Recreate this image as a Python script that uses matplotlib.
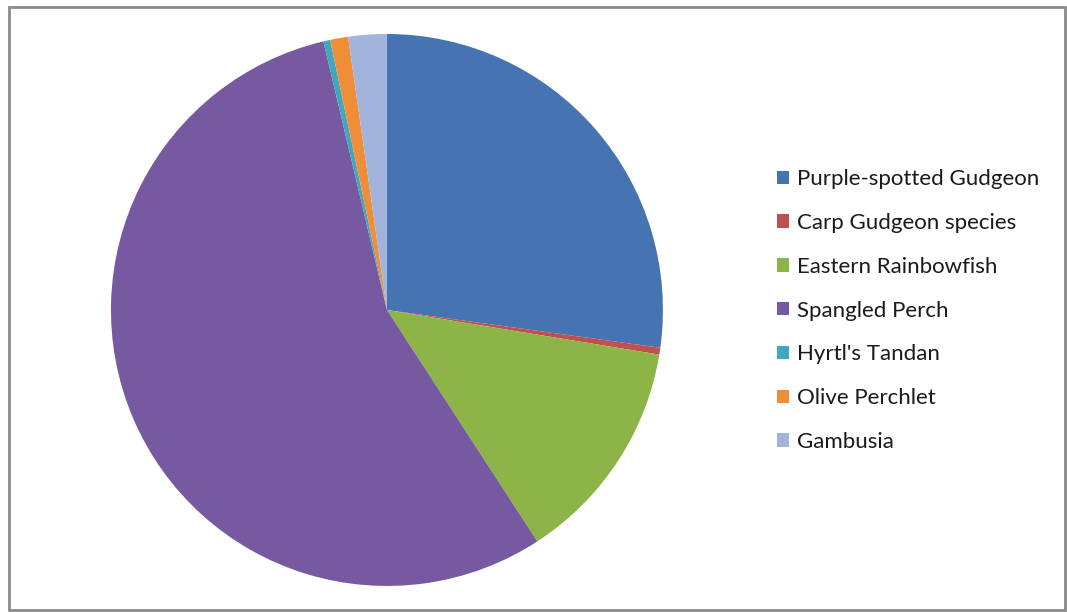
import matplotlib.pyplot as plt
from matplotlib.patches import Rectangle

species = ['Purple-spotted Gudgeon', 'Carp Gudgeon species', 'Eastern Rainbowfish',
           'Spangled Perch', "Hyrtl's Tandan", 'Olive Perchlet', 'Gambusia']
share = [27.2, 0.4, 13.25, 55.5, 0.4, 1.05, 2.25]
colors = ['#4673B1', '#C0504D', '#8DB446', '#7659A0', '#3FA8BE', '#F08E38', '#A3B4DC']

plt.rcParams['font.family'] = ['Lato', 'DejaVu Sans']

fig = plt.figure(figsize=(10.67, 6.12), dpi=100)
ax = fig.add_axes([0.104, 0.0425, 0.5173, 0.902])
wedges, _ = ax.pie(share, colors=colors, startangle=90, counterclock=False,
                   wedgeprops=dict(linewidth=0))
ax.set_xlim(-1, 1)
ax.set_ylim(-1, 1)
ax.set_aspect('equal')

leg = fig.legend(wedges, species, loc='upper left', bbox_to_anchor=(0.7195, 0.738),
                 frameon=False, fontsize=16, handlelength=0.55, handleheight=0.55,
                 handletextpad=0.38, labelspacing=1.07, borderaxespad=0)
for t in leg.get_texts():
    t.set_color('#1a1a1a')

# thin grey frame around the chart area
fig.patches.append(Rectangle((9 / 1067, 2 / 612), 1056 / 1067, 603 / 612,
                             transform=fig.transFigure, fill=False,
                             edgecolor='#8a8a8a', linewidth=2))

fig.savefig('out.png', dpi=100)
